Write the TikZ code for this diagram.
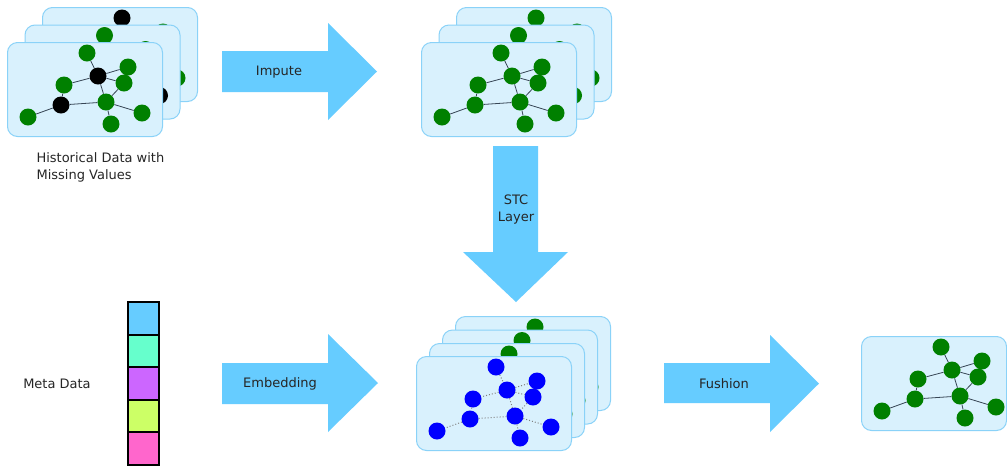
\documentclass[tikz,border=0pt]{standalone}
\usepackage{fontspec}
\setmainfont{DejaVu Sans}
\definecolor{cardfill}{RGB}{217,241,253}
\definecolor{carddraw}{RGB}{138,210,248}
\definecolor{arrowblue}{RGB}{102,204,255}
\definecolor{gnodec}{RGB}{0,128,0}
\definecolor{bnodec}{RGB}{0,0,255}
\definecolor{edgec}{RGB}{55,70,85}
\definecolor{mone}{RGB}{102,204,255}
\definecolor{mtwo}{RGB}{102,255,204}
\definecolor{mthree}{RGB}{204,102,255}
\definecolor{mfour}{RGB}{204,255,102}
\definecolor{mfive}{RGB}{255,102,204}
\tikzset{
 card/.style={draw=carddraw, fill=cardfill, line width=1pt, rounded corners=10pt, minimum height=94pt, inner sep=0pt, anchor=north west},
 vtx/.style={circle, inner sep=0pt, minimum size=17pt},
 solidedge/.style={draw=edgec, line width=0.8pt},
 dotedge/.style={draw=gray, line width=1pt, dotted},
 bigarrow/.style={fill=arrowblue},
 lbl/.style={font=\fontsize{13}{17}\selectfont, text=black!85, align=center},
 metacell/.style={draw=black, line width=2pt, minimum width=31pt, minimum height=32.5pt, inner sep=0pt, outer sep=0pt, anchor=north}
}
\newcommand\netcard[9]{%
\begin{scope}[shift={(#2,#3)}]
\node[card, minimum width=#4] (#1card) at (0,0) {};
\node[vtx, fill=#7] (#1n1) at (80,11) {};
\node[vtx, fill=#8] (#1n2) at (91,34) {};
\node[vtx, fill=#6] (#1n3) at (121,25) {};
\node[vtx, fill=#6] (#1n4) at (117,41) {};
\node[vtx, fill=#6] (#1n5) at (57,43) {};
\node[vtx, fill=#8] (#1n6) at (54,63) {};
\node[vtx, fill=#6] (#1n7) at (99,60) {};
\node[vtx, fill=#6] (#1n8) at (21,75) {};
\node[vtx, fill=#9] (#1n9) at (135,71) {};
\node[vtx, fill=#6] (#1n10) at (104,82) {};
\foreach \a/\b in {1/2,2/3,2/4,2/5,2/7,4/7,5/6,6/7,6/8,7/9,7/10} \draw[#5] (#1n\a) -- (#1n\b);
\end{scope}}
\begin{document}
\begin{tikzpicture}[x=1pt,y=-1pt]
\useasboundingbox (0,0) rectangle (1007,467);
\fill[white] (0,0) rectangle (1007,467);
% historical data
\netcard{hb}{42}{7}{155pt}{solidedge}{gnodec}{black}{gnodec}{gnodec}
\netcard{hm}{24.5}{24.5}{155pt}{solidedge}{gnodec}{gnodec}{gnodec}{black}
\netcard{hf}{7}{42}{155pt}{solidedge}{gnodec}{gnodec}{black}{gnodec}
\node[lbl, anchor=west, align=left] (hist) at (33,167) {Historical Data with\\Missing Values};
% imputed
\netcard{ib}{456}{7}{155pt}{solidedge}{gnodec}{gnodec}{gnodec}{gnodec}
\netcard{im}{438.5}{24.5}{155pt}{solidedge}{gnodec}{gnodec}{gnodec}{gnodec}
\netcard{if}{421}{42}{155pt}{solidedge}{gnodec}{gnodec}{gnodec}{gnodec}
% embedded stack
\netcard{ea}{455}{316}{155pt}{solidedge}{gnodec}{gnodec}{gnodec}{gnodec}
\netcard{eb}{442}{329.5}{155pt}{solidedge}{gnodec}{gnodec}{gnodec}{gnodec}
\netcard{ec}{429}{343}{155pt}{solidedge}{gnodec}{gnodec}{gnodec}{gnodec}
\netcard{ef}{416}{356}{155pt}{dotedge}{bnodec}{bnodec}{bnodec}{bnodec}
% output
\netcard{out}{861}{336}{145pt}{solidedge}{gnodec}{gnodec}{gnodec}{gnodec}
% arrows
\fill[bigarrow] (222,51) -- (328,51) -- (328,23) -- (377,71.5) -- (328,120) -- (328,92) -- (222,92) -- cycle;
\node[lbl] (impute) at (279,72) {Impute};
\fill[bigarrow] (222,363) -- (328,363) -- (328,334) -- (378,383) -- (328,432) -- (328,404) -- (222,404) -- cycle;
\node[lbl] (embed) at (280,384) {Embedding};
\fill[bigarrow] (664,363) -- (770,363) -- (770,335) -- (819,383.5) -- (770,432) -- (770,403) -- (664,403) -- cycle;
\node[lbl] (fush) at (724,384) {Fushion};
\fill[bigarrow] (493,146) -- (538,146) -- (538,252) -- (568,252) -- (516,302) -- (463,252) -- (493,252) -- cycle;
\node[lbl] (stc) at (516,209.5) {STC\\Layer};
% meta data
\node[lbl] (meta) at (57,384) {Meta Data};
\node[metacell, fill=mone] (c1) at (143.5,302) {};
\node[metacell, fill=mtwo] (c2) at (c1.south) {};
\node[metacell, fill=mthree] (c3) at (c2.south) {};
\node[metacell, fill=mfour] (c4) at (c3.south) {};
\node[metacell, fill=mfive] (c5) at (c4.south) {};
\end{tikzpicture}
\end{document}
